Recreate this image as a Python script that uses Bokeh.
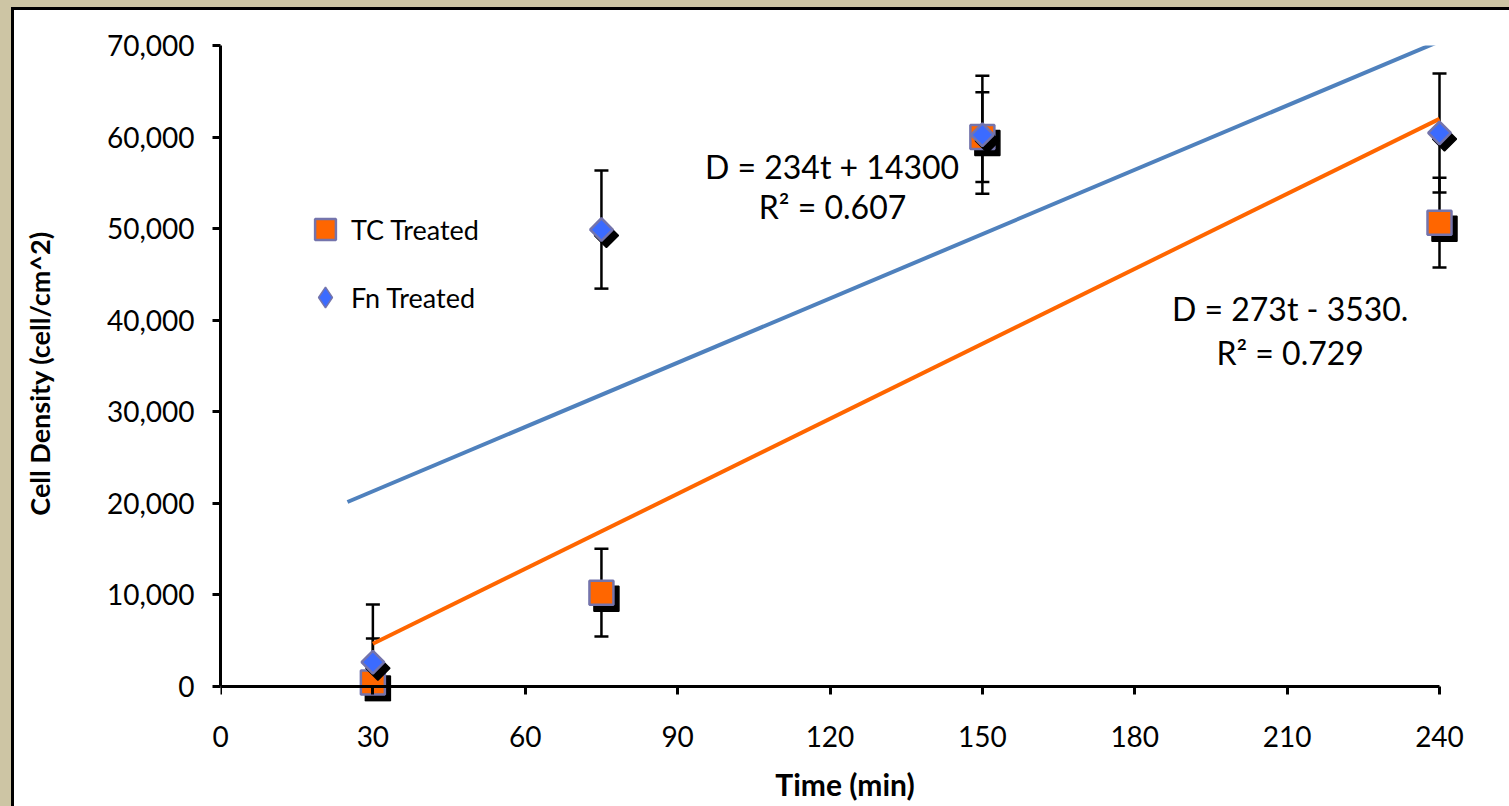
import numpy as np
from bokeh.plotting import figure
from bokeh.models import (ColumnDataSource, Whisker, TeeHead, FixedTicker, NumeralTickFormatter,
                          Legend, LegendItem, Label, Range1d, LinearAxis, GlobalInlineStyleSheet)
from bokeh.embed import file_html
from bokeh.resources import INLINE

# ---------------- data ----------------
time_min = [30, 75, 150, 240]
tc_density = [450, 10250, 60000, 50650]
tc_error = [4800, 4800, 4900, 4900]
fn_density = [2650, 49900, 60250, 60450]
fn_error = [6300, 6450, 6450, 6500]

x_ticks = [0, 30, 60, 90, 120, 150, 180, 210, 240]
y_ticks = [0, 10000, 20000, 30000, 40000, 50000, 60000, 70000]

fn_fit = (234, 14300)      # slope, intercept
fn_fit_span = [25, 240]
tc_fit = (273, -3530)
tc_fit_span = [30, 240]

fn_eq_text = ["D = 234t + 14300", "R² = 0.607"]
fn_eq_pos = [(120.4, 56800), (120.5, 52400)]
tc_eq_text = ["D = 273t - 3530.", "R² = 0.729"]
tc_eq_pos = [(210.6, 41300), (210.6, 36450)]

# ---------------- geometry ----------------
X_PX = 1219 / 240          # px per minute
Y_PX = 641 / 70000         # px per cell/cm^2
FRAME_W = 1249
FRAME_H = 656
x_end = FRAME_W / X_PX
y_start = -(FRAME_H - 641) / Y_PX

TAN = "#CDC5A4"
ORANGE = "#FF6600"
BLUE = "#3B6BFF"
EDGE = "#7474AC"
FONT = "Lato"

p = figure(frame_width=FRAME_W, frame_height=FRAME_H,
           x_range=Range1d(0, x_end), y_range=Range1d(y_start, 70000),
           output_backend="svg", toolbar_location=None,
           min_border_left=206, min_border_top=35, min_border_right=40, min_border_bottom=105)
p.styles = {"margin-left": "11px", "margin-top": "7px", "background-color": "white",
            "border-left": "3px solid black", "border-top": "3px solid black"}
p.stylesheets = [GlobalInlineStyleSheet(
    css=f"html, body {{margin:0; padding:0; overflow:hidden; background:{TAN};}}")]
p.background_fill_color = "white"
p.border_fill_color = "white"
p.outline_line_color = None
p.grid.visible = False

# second x axis at the frame bottom: carries tick labels and title
xlab = LinearAxis()
p.add_layout(xlab, "below")

def style_axis(ax):
    ax.axis_line_width = 3
    ax.axis_line_color = "black"
    ax.major_tick_line_width = 3
    ax.major_tick_line_color = "black"
    ax.major_tick_out = 8
    ax.major_tick_in = 0
    ax.minor_tick_line_color = None
    ax.major_label_text_font = FONT
    ax.major_label_text_font_size = "28px"
    ax.major_label_text_color = "black"
    ax.axis_label_text_font = FONT
    ax.axis_label_text_font_style = "bold"
    ax.axis_label_text_font_size = "27px"
    ax.axis_label_text_color = "black"

xaxis0 = p.xaxis[0]
for ax in (xaxis0, xlab, p.yaxis[0]):
    style_axis(ax)
    ax.ticker = FixedTicker(ticks=x_ticks)
p.yaxis.ticker = FixedTicker(ticks=y_ticks)
p.yaxis.formatter = NumeralTickFormatter(format="0,0")
p.yaxis.bounds = (0, 70000)

# axis line + ticks drawn at y = 0
xaxis0.bounds = (0, 240)
xaxis0.fixed_location = 0
xaxis0.major_label_text_alpha = 0

# labels-only axis
xlab.axis_line_color = None
xlab.major_tick_line_color = None
xlab.major_tick_out = 0
xlab.major_label_standoff = 24
xlab.axis_label = "Time (min)"
xlab.axis_label_text_font_size = "30px"
xlab.axis_label_standoff = 16

p.yaxis.axis_label = "Cell Density (cell/cm^2)"
p.yaxis.major_label_standoff = 18
p.yaxis.axis_label_standoff = 48

# trend lines
fn_line_y = [fn_fit[0] * t + fn_fit[1] for t in fn_fit_span]
tc_line_y = [tc_fit[0] * t + tc_fit[1] for t in tc_fit_span]
p.line(fn_fit_span, fn_line_y, line_color="#4F81BD", line_width=4)
p.line(tc_fit_span, tc_line_y, line_color=ORANGE, line_width=4)

# error bars
def whisker(vals, errs):
    src = ColumnDataSource(dict(x=time_min,
                                upper=[v + e for v, e in zip(vals, errs)],
                                lower=[max(v - e, 0) for v, e in zip(vals, errs)]))
    w = Whisker(base="x", upper="upper", lower="lower", source=src, dimension="height",
                line_color="black", line_width=2.5, level="underlay",
                upper_head=TeeHead(size=14, line_width=2.5, line_color="black"),
                lower_head=TeeHead(size=14, line_width=2.5, line_color="black"))
    p.add_layout(w)

whisker(tc_density, tc_error)
whisker(fn_density, fn_error)

# markers with drop shadows
sh_dx = 5 / X_PX
sh_dy = 6 / Y_PX
tc_shadow = dict(x=[t + sh_dx for t in time_min], y=[v - sh_dy for v in tc_density])
fn_shadow = dict(x=[t + sh_dx for t in time_min], y=[v - sh_dy for v in fn_density])

p.scatter(tc_shadow["x"], tc_shadow["y"], marker="square", size=25,
          fill_color="black", line_color="black", line_width=1.5)
tc_r = p.scatter(time_min, tc_density, marker="square", size=24,
                 fill_color=ORANGE, line_color=EDGE, line_width=2.5)
p.scatter(fn_shadow["x"], fn_shadow["y"], marker="square", angle=np.pi / 4, size=17,
          fill_color="black", line_color="black", line_width=1.5)
fn_r = p.scatter(time_min, fn_density, marker="square", angle=np.pi / 4, size=16,
                 fill_color=BLUE, line_color=EDGE, line_width=2.5)
# legend-only glyph (not drawn in the plot)
fn_key = p.scatter(time_min, fn_density, marker="diamond", size=16,
                   fill_color=BLUE, line_color=EDGE, line_width=1.5, visible=False)

legend = Legend(items=[LegendItem(label="TC Treated", renderers=[tc_r]),
                       LegendItem(label="Fn Treated", renderers=[fn_key])],
                location=(79, 378), glyph_width=52, glyph_height=52, spacing=16,
                label_standoff=0, padding=0, margin=0,
                border_line_alpha=0, background_fill_alpha=0,
                inactive_fill_alpha=0,
                label_text_font=FONT, label_text_font_size="27px",
                label_text_color="black")
p.add_layout(legend)

for txt, (lx, ly) in zip(fn_eq_text + tc_eq_text, fn_eq_pos + tc_eq_pos):
    p.add_layout(Label(x=lx, y=ly, text=txt, text_align="center", text_baseline="middle",
                       text_font=FONT, text_font_size="32px", text_color="black"))

open("out.html", "w").write(file_html(p, INLINE))
